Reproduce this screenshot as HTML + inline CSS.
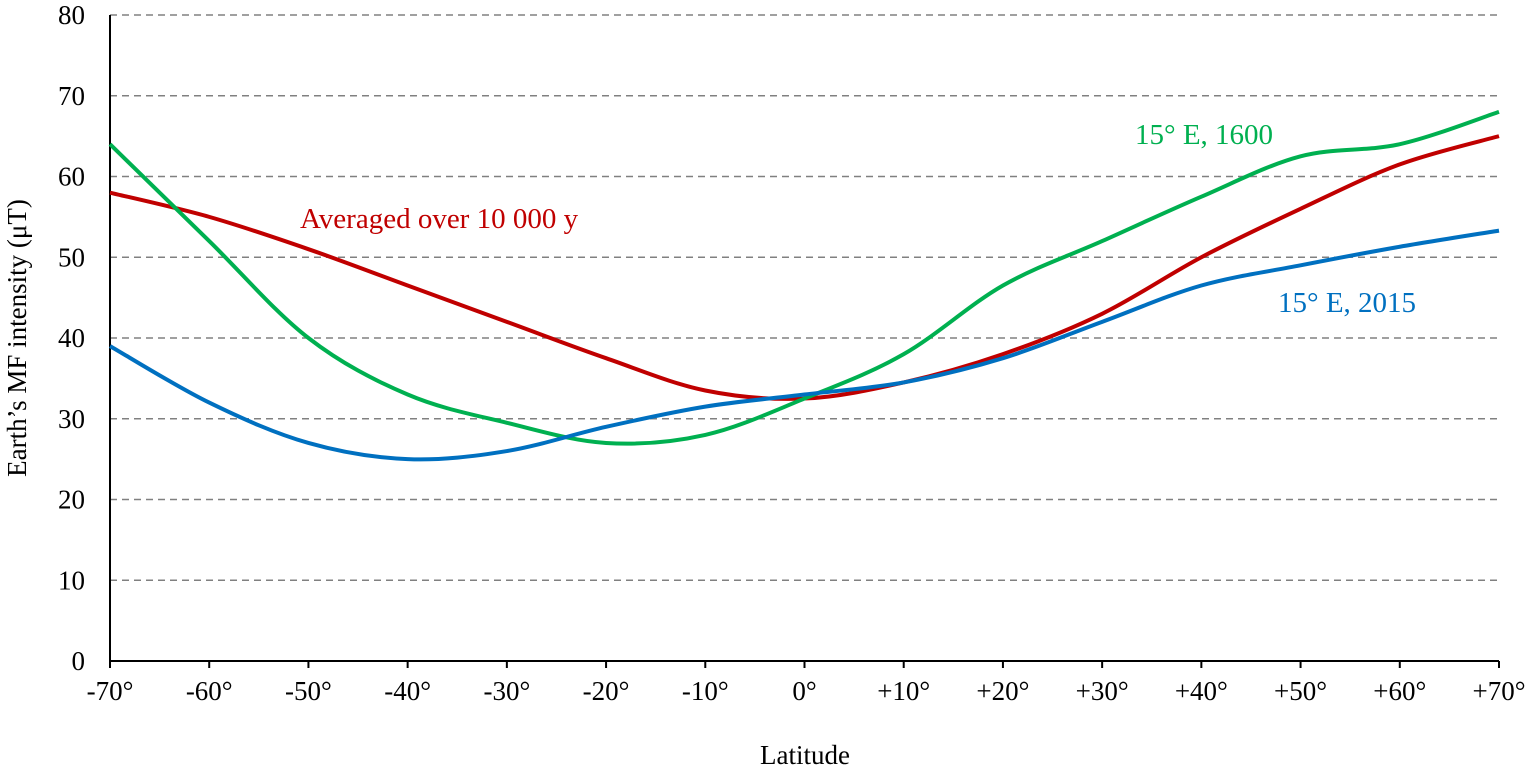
<!DOCTYPE html>
<html><head><style>body{margin:0;background:#fff}svg{display:block}text{font-family:"Liberation Serif",serif}</style></head>
<body>
<svg id="s" width="1535" height="773" xmlns="http://www.w3.org/2000/svg">
<g id="grid" stroke="#808080" stroke-width="1.5" stroke-dasharray="7,5"></g>
<g id="lab" font-size="27" fill="#000"></g>
<line x1="110" y1="15" x2="110" y2="661" stroke="#000" stroke-width="2"/>
<line x1="110" y1="661" x2="1499" y2="661" stroke="#000" stroke-width="2"/>
<g id="curves" fill="none" stroke-width="4" stroke-linejoin="round"></g>
<text x="805" y="764" font-size="27" text-anchor="middle">Latitude</text>
<text transform="translate(26,338) rotate(-90)" font-size="27" text-anchor="middle">Earth’s MF intensity (μT)</text>
<text x="1135" y="144" font-size="29" fill="#00b050">15° E, 1600</text>
<text x="300" y="228" font-size="29" fill="#c00000">Averaged over 10 000 y</text>
<text x="1278" y="312" font-size="29" fill="#0070c0">15° E, 2015</text>
</svg>
<script>
const X=v=>110+(v+70)*1389/140, Y=v=>661-v*646/80;
const ns="http://www.w3.org/2000/svg";
const g=document.getElementById('grid'),lab=document.getElementById('lab');
for(let v=0;v<=80;v+=10){
 if(v>0){const l=document.createElementNS(ns,'line');l.setAttribute('x1',110);l.setAttribute('x2',1499);l.setAttribute('y1',Y(v));l.setAttribute('y2',Y(v));g.appendChild(l);}
 const t=document.createElementNS(ns,'text');t.setAttribute('x',85);t.setAttribute('y',Y(v)+9);t.setAttribute('text-anchor','end');t.textContent=v;lab.appendChild(t);
}
for(let v=-70;v<=70;v+=10){
 const tk=document.createElementNS(ns,'line');tk.setAttribute('x1',X(v));tk.setAttribute('x2',X(v));tk.setAttribute('y1',661);tk.setAttribute('y2',668);tk.setAttribute('stroke','#000');tk.setAttribute('stroke-width',2);lab.appendChild(tk);
 const t=document.createElementNS(ns,'text');t.setAttribute('x',X(v));t.setAttribute('y',700);t.setAttribute('text-anchor','middle');t.textContent=(v>0?'+':'')+v+'°';lab.appendChild(t);
}
const xs=[-70,-60,-50,-40,-30,-20,-10,0,10,20,30,40,50,60,70];
const data=[
 ['#c00000',[58,55,51,46.5,42,37.5,33.5,32.5,34.5,38,43,50,56,61.5,65]],
 ['#00b050',[64,52,40,33,29.5,27,28,32.5,38,46.5,52,57.5,62.5,64,68]],
 ['#0070c0',[39,32,27,25,26,29,31.5,33,34.5,37.5,42,46.5,49,51.3,53.3]]];
const c=document.getElementById('curves');
for(const [col,ys] of data){
 const p=xs.map((x,i)=>[X(x),Y(ys[i])]);
 let d=`M${p[0][0]},${p[0][1]}`;
 for(let i=0;i<p.length-1;i++){
  const p0=p[Math.max(i-1,0)],p1=p[i],p2=p[i+1],p3=p[Math.min(i+2,p.length-1)];
  d+=` C${p1[0]+(p2[0]-p0[0])/6},${p1[1]+(p2[1]-p0[1])/6} ${p2[0]-(p3[0]-p1[0])/6},${p2[1]-(p3[1]-p1[1])/6} ${p2[0]},${p2[1]}`;
 }
 const pa=document.createElementNS(ns,'path');pa.setAttribute('d',d);pa.setAttribute('stroke',col);c.appendChild(pa);
}
</script>
</body></html>
